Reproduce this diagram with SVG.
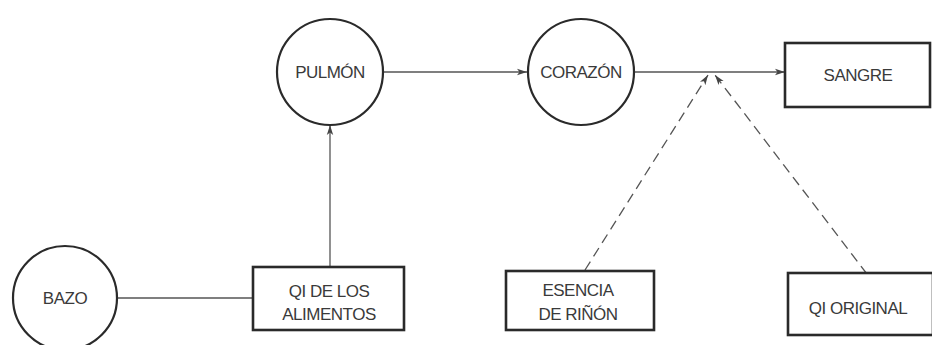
<svg xmlns="http://www.w3.org/2000/svg" width="932" height="345" viewBox="0 0 932 345">
<style>
.node{fill:#fff;stroke:#2a2a2a;stroke-width:2.2}
.box{fill:#fff;stroke:#2a2a2a;stroke-width:2.6}
.lbl{font-family:"Liberation Sans",Arial,sans-serif;font-size:17px;fill:#3a3a3a;text-anchor:middle;letter-spacing:-0.5px}
.con{fill:none;stroke:#555;stroke-width:1.3}
.dash{stroke-dasharray:10 6}
</style>
<defs>
<marker id="ah" viewBox="0 0 10 8" refX="10" refY="4" markerWidth="10" markerHeight="8" markerUnits="userSpaceOnUse" orient="auto">
<path d="M0,0.8 L10,4 L0,7.2 L2.5,4 Z" fill="#444"/>
</marker>
</defs>
<g id="connectors">
<line class="con" x1="117" y1="298" x2="253" y2="298"/>
<line class="con" x1="330" y1="267" x2="330" y2="125" marker-end="url(#ah)"/>
<line class="con" x1="383" y1="72" x2="527" y2="72" marker-end="url(#ah)"/>
<line class="con" x1="634" y1="72" x2="785" y2="72" marker-end="url(#ah)"/>
<line class="con dash" x1="585" y1="270" x2="708" y2="75" marker-end="url(#ah)"/>
<line class="con dash" x1="867" y1="274" x2="715" y2="75" marker-end="url(#ah)"/>
</g>
<g id="bazo">
<circle class="node" cx="65" cy="298" r="52"/>
<text class="lbl" x="65" y="304">BAZO</text>
</g>
<g id="qi-alimentos">
<rect class="box" x="253" y="267" width="151" height="63"/>
<text class="lbl" x="329" y="297">QI DE LOS</text>
<text class="lbl" x="329" y="320">ALIMENTOS</text>
</g>
<g id="pulmon">
<circle class="node" cx="330" cy="72" r="53"/>
<text class="lbl" x="330" y="78">PULMÓN</text>
</g>
<g id="corazon">
<circle class="node" cx="581" cy="72" r="53"/>
<text class="lbl" x="581" y="78">CORAZÓN</text>
</g>
<g id="sangre">
<rect class="box" x="785" y="43" width="145" height="64"/>
<text class="lbl" x="858" y="81">SANGRE</text>
</g>
<g id="esencia-rinon">
<rect class="box" x="506" y="271" width="148" height="59"/>
<text class="lbl" x="578" y="296">ESENCIA</text>
<text class="lbl" x="578" y="320">DE RIÑÓN</text>
</g>
<g id="qi-original">
<rect class="box" x="788" y="273" width="145" height="62"/>
<text class="lbl" x="858" y="314">QI ORIGINAL</text>
</g>
</svg>
